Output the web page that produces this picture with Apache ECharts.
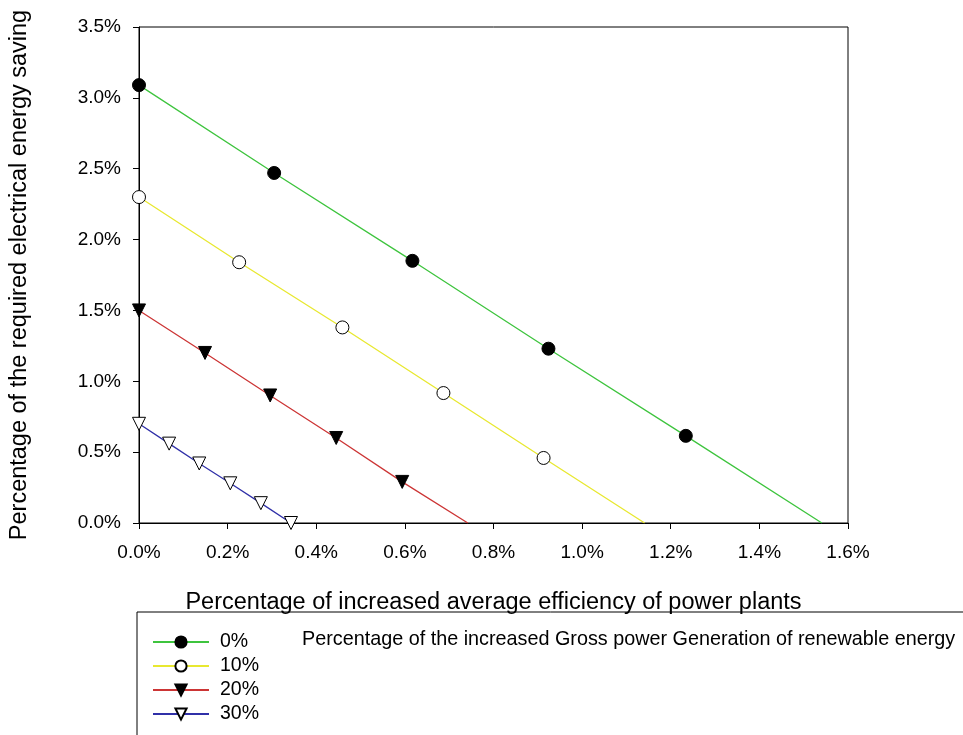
<!DOCTYPE html>
<html>
<head>
<meta charset="utf-8">
<script src="https://cdn.jsdelivr.net/npm/echarts@6/dist/echarts.min.js"></script>
<style>html,body{margin:0;padding:0;background:#fff;}#c{width:963px;height:735px;}</style>
</head>
<body>
<div id="c"></div>
<script>
// Data (percent units)
const seriesNames = ['0%', '10%', '20%', '30%'];
const x0 = [0, 0.305, 0.617, 0.924, 1.234, 1.541];
const y0 = [3.09, 2.47, 1.85, 1.23, 0.615, 0];
const x10 = [0, 0.226, 0.459, 0.687, 0.913, 1.141];
const y10 = [2.30, 1.84, 1.38, 0.917, 0.459, 0];
const x20 = [0, 0.149, 0.296, 0.445, 0.594, 0.742];
const y20 = [1.50, 1.20, 0.90, 0.60, 0.29, 0];
const x30 = [0, 0.068, 0.136, 0.206, 0.275, 0.343];
const y30 = [0.70, 0.56, 0.42, 0.28, 0.14, 0];
const xTicks = [0, 0.2, 0.4, 0.6, 0.8, 1.0, 1.2, 1.4, 1.6];
const yTicks = [0, 0.5, 1.0, 1.5, 2.0, 2.5, 3.0, 3.5];
const xTitle = 'Percentage of increased average efficiency of power plants';
const yTitle = 'Percentage of the required electrical energy saving';
const legendTitle = 'Percentage of the increased Gross power Generation of renewable energy';

const allX = [x0, x10, x20, x30];
const allY = [y0, y10, y20, y30];
const lineColors = ['#3ec43e', '#e8e830', '#cc3535', '#3030a8'];
const symbols = ['circle', 'circle', 'triangle', 'triangle'];
const filled = [true, false, true, false];
const endMarker = [false, false, false, true];

const FONT = '"Liberation Sans", Arial, sans-serif';

const series = seriesNames.map((n, i) => ({
  name: n,
  type: 'line',
  data: allX[i].map((x, j) => {
    const last = j === allX[i].length - 1;
    return (last && !endMarker[i]) ? { value: [x, allY[i][j]], symbol: 'none' } : [x, allY[i][j]];
  }),
  symbol: symbols[i],
  symbolSize: 13,
  symbolRotate: symbols[i] === 'triangle' ? 180 : 0,
  showAllSymbol: true,
  lineStyle: { color: lineColors[i], width: 1.3 },
  itemStyle: { color: filled[i] ? '#000' : '#fff', borderColor: '#000', borderWidth: 1 },
  emphasis: { disabled: true },
  z: 2 + i
}));

const chart = echarts.init(document.getElementById('c'), null, { renderer: 'canvas' });
chart.setOption({
  animation: false,
  backgroundColor: '#fff',
  textStyle: { fontFamily: FONT },
  grid: { left: 139, right: 115, top: 27, bottom: 212, show: true, borderColor: '#000', borderWidth: 1 },
  xAxis: {
    type: 'value', min: xTicks[0], max: xTicks[xTicks.length - 1], interval: 0.2,
    name: xTitle, nameLocation: 'middle', nameGap: 68,
    nameTextStyle: { fontSize: 23.5, color: '#000', fontFamily: FONT },
    axisLine: { show: true, lineStyle: { color: '#000', width: 1 } },
    axisTick: { show: true, length: 6, lineStyle: { color: '#000' } },
    splitLine: { show: false },
    axisLabel: { fontSize: 19, color: '#000', margin: 20, fontFamily: FONT, formatter: v => v.toFixed(1) + '%' }
  },
  yAxis: {
    type: 'value', min: yTicks[0], max: yTicks[yTicks.length - 1], interval: 0.5,
    name: yTitle, nameLocation: 'middle', nameGap: 107, nameRotate: 90,
    nameTextStyle: { fontSize: 23.5, color: '#000', fontFamily: FONT },
    axisLine: { show: true, lineStyle: { color: '#000', width: 1 } },
    axisTick: { show: true, length: 6, lineStyle: { color: '#000' } },
    splitLine: { show: false },
    axisLabel: { fontSize: 19, color: '#000', margin: 18, fontFamily: FONT, formatter: v => v.toFixed(1) + '%' }
  },
  legend: {
    orient: 'vertical', left: 152, top: 632, padding: 0,
    itemWidth: 56, itemHeight: 14, itemGap: 4,
    textStyle: { fontSize: 19.5, color: '#000', fontFamily: FONT, padding: [0, 0, 0, 6] },
    data: seriesNames
  },
  graphic: [
    { type: 'rect', shape: { x: 137, y: 612, width: 900, height: 200 }, style: { fill: 'none', stroke: '#000', lineWidth: 1 }, z: -1 },
    { type: 'text', x: 302, y: 640, style: { text: legendTitle, fill: '#000', font: '19.8px ' + FONT, textVerticalAlign: 'middle' } }
  ],
  series: series
});
</script>
</body>
</html>
